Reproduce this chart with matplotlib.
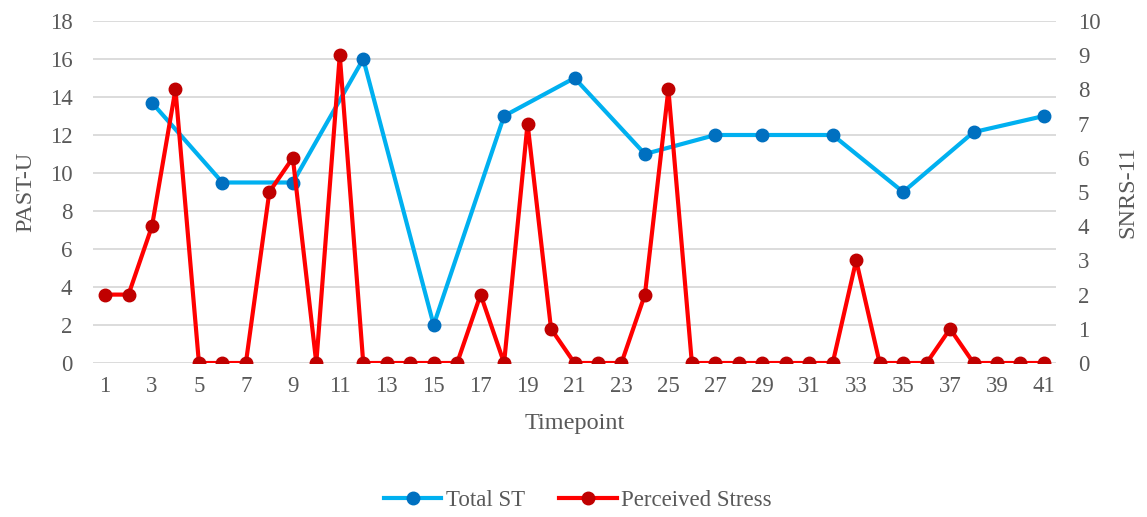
import numpy as np
import matplotlib.pyplot as plt
from matplotlib.lines import Line2D

plt.rcParams['font.family'] = ['Liberation Serif', 'DejaVu Serif']

timepoints = np.arange(1, 42)

# Total ST (left axis, PAST-U) measured only at some timepoints
st_times = [3, 6, 9, 12, 15, 18, 21, 24, 27, 29, 32, 35, 38, 41]
st_values = [13.7, 9.5, 9.5, 16, 2, 13, 15, 11, 12, 12, 12, 9, 12.15, 13]

# Perceived stress (right axis, SNRS-11) at every timepoint
stress = [2, 2, 4, 8, 0, 0, 0, 5, 6, 0,
          9, 0, 0, 0, 0, 0, 2, 0, 7, 1,
          0, 0, 0, 2, 8, 0, 0, 0, 0, 0,
          0, 0, 3, 0, 0, 0, 1, 0, 0, 0,
          0]

text_col = '#595959'
grid_col = '#D9D9D9'
blue_line, blue_mark = '#00B0F0', '#0070C0'
red_line, red_mark = '#FF0000', '#C00000'
fs = 16.5

fig = plt.figure(figsize=(11.47, 5.17), dpi=100)
ax = fig.add_axes([93.3 / 1147, 1 - 363 / 517, (1055.7 - 93.3) / 1147, (363 - 21) / 517])
ax2 = ax.twinx()

ax.set_xlim(0.5, 41.5)
ax.set_ylim(0, 18)
ax2.set_ylim(0, 10)
ax.set_yticks(np.arange(0, 19, 2))
ax2.set_yticks(np.arange(0, 11, 1))
ax.set_xticks(timepoints[::2])

ax.grid(axis='y', color=grid_col, linewidth=1.3)
ax.set_axisbelow(True)
for a in (ax, ax2):
    for s in a.spines.values():
        s.set_visible(False)
    a.tick_params(length=0, labelsize=fs, colors=text_col)
ax.tick_params(axis='y', pad=15)
ax.tick_params(axis='x', pad=9)
ax2.tick_params(axis='y', pad=16)

ax.plot(st_times, st_values, color=blue_line, linewidth=3, marker='o',
        markersize=9, markerfacecolor=blue_mark, markeredgecolor=blue_mark, zorder=3)
ax2.plot(timepoints, stress, color=red_line, linewidth=3, marker='o',
         markersize=9, markerfacecolor=red_mark, markeredgecolor=red_mark, zorder=3)

ax.set_ylabel('PAST-U', fontsize=fs + 1, color=text_col, labelpad=10)
ax2.set_ylabel('SNRS-11', fontsize=fs + 1, color=text_col, labelpad=12)
ax.set_xlabel('Timepoint', fontsize=fs + 1, color=text_col, labelpad=12)

handles = [
    Line2D([], [], color=blue_line, linewidth=3, marker='o', markersize=9,
           markerfacecolor=blue_mark, markeredgecolor=blue_mark),
    Line2D([], [], color=red_line, linewidth=3, marker='o', markersize=9,
           markerfacecolor=red_mark, markeredgecolor=red_mark),
]
leg = fig.legend(handles, ['Total ST', 'Perceived Stress'], loc='center',
                 bbox_to_anchor=(578 / 1147, 1 - 500 / 517), ncol=2, frameon=False,
                 fontsize=fs, handlelength=2.5, handletextpad=0.2, columnspacing=1.5)
for t in leg.get_texts():
    t.set_color(text_col)

fig.savefig('out.png', dpi=100)
